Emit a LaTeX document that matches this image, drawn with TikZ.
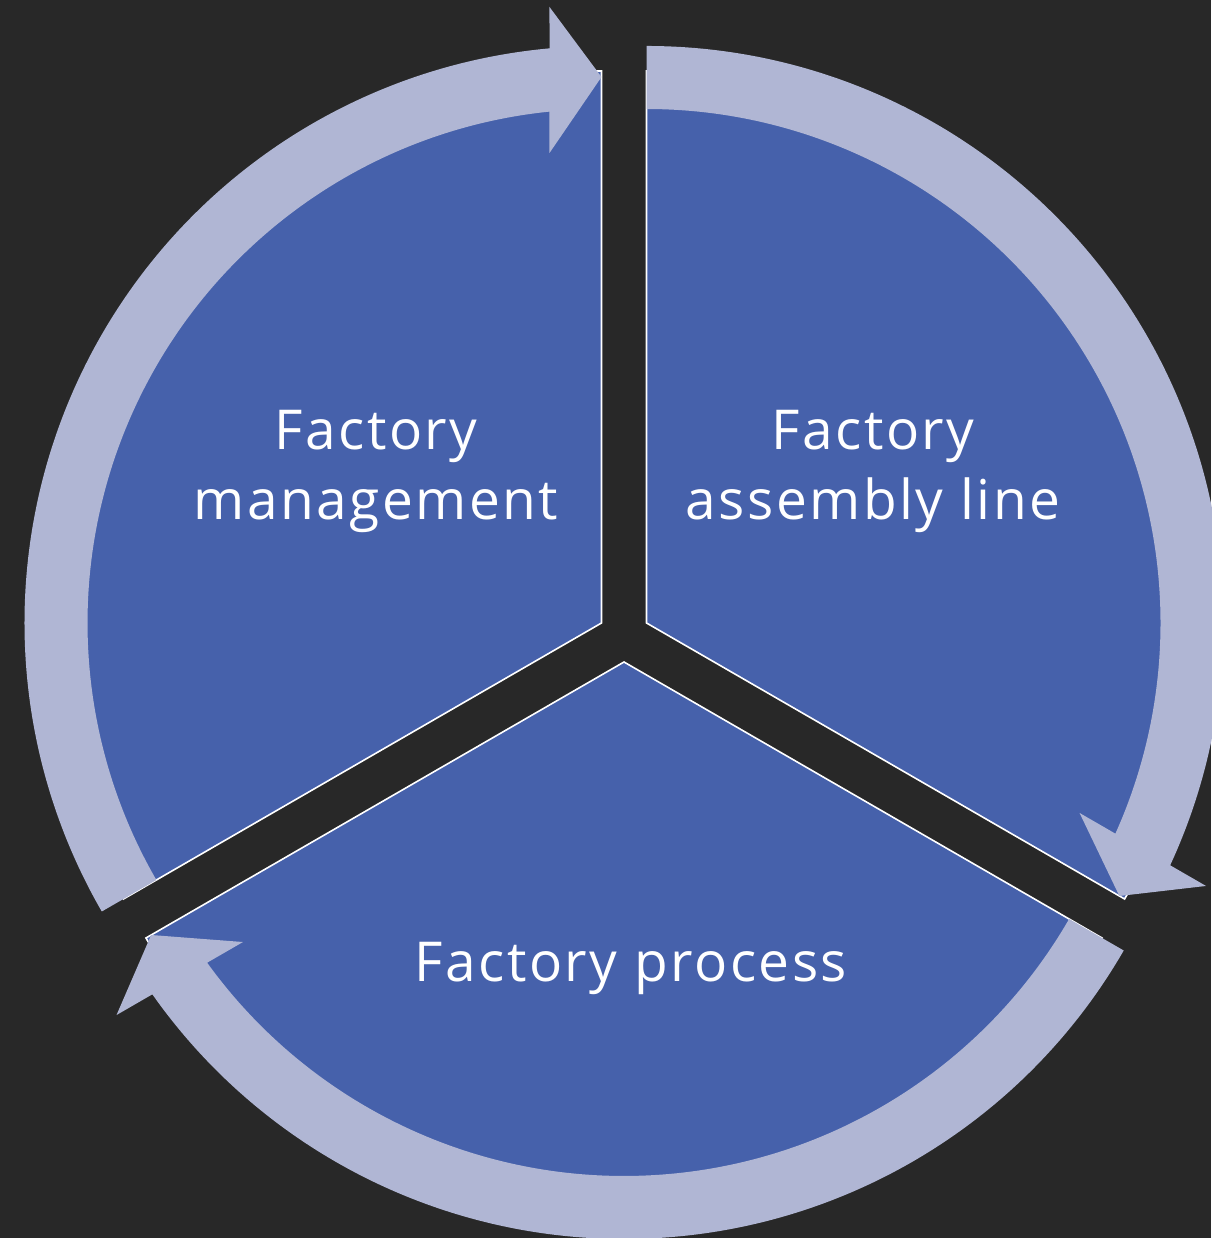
\documentclass[tikz,border=0pt]{standalone}
\usepackage{fontspec}
\setmainfont{Open Sans}
\newfontfamily\labelfont[LetterSpace=4.5]{Open Sans}
\definecolor{bgc}{RGB}{40,40,40}
\definecolor{segblue}{RGB}{70,97,171}
\definecolor{ringc}{RGB}{176,182,212}
\tikzset{
  segment/.style={fill=segblue, draw=white, line width=1.6pt, line join=miter},
  ringarrow/.style={fill=ringc, draw=none},
  label/.style={text=white, font=\labelfont\fontsize{55}{70}\selectfont, align=center, inner sep=0pt, anchor=base}
}
\newcommand{\cycleunit}[1]{%
  \begin{scope}[shift={(624,602)}, rotate=#1, shift={(150:26)}]
    \path[segment] (0,0) -- (90:552) arc[start angle=90, end angle=210, radius=552] -- cycle;
  \end{scope}}
\newcommand{\cyclearrow}[1]{%
  \begin{scope}[shift={(624,602)}, rotate=#1, shift={(150:26)}]
    \path[ringarrow] (210:577) arc[start angle=210, end angle=95.17, radius=577]
      -- (-52,616) -- (0,546) -- (-52,470) -- (-52,511.36)
      arc[start angle=95.81, end angle=210, radius=514] -- cycle;
  \end{scope}}
\begin{document}
\begin{tikzpicture}[x=1pt, y=1pt]
  \useasboundingbox (0,0) rectangle (1211,1238);
  \fill[bgc] (0,0) rectangle (1211,1238);
  \cycleunit{0}
  \cycleunit{-120}
  \cycleunit{120}
  \cyclearrow{0}
  \cyclearrow{-120}
  \cyclearrow{120}
  \node[label] (mgmt) at (376,718) {Factory\\management};
  \node[label] (asm) at (873,718) {Factory\\assembly line};
  \node[label] (proc) at (631,256) {Factory process};
\end{tikzpicture}
\end{document}
